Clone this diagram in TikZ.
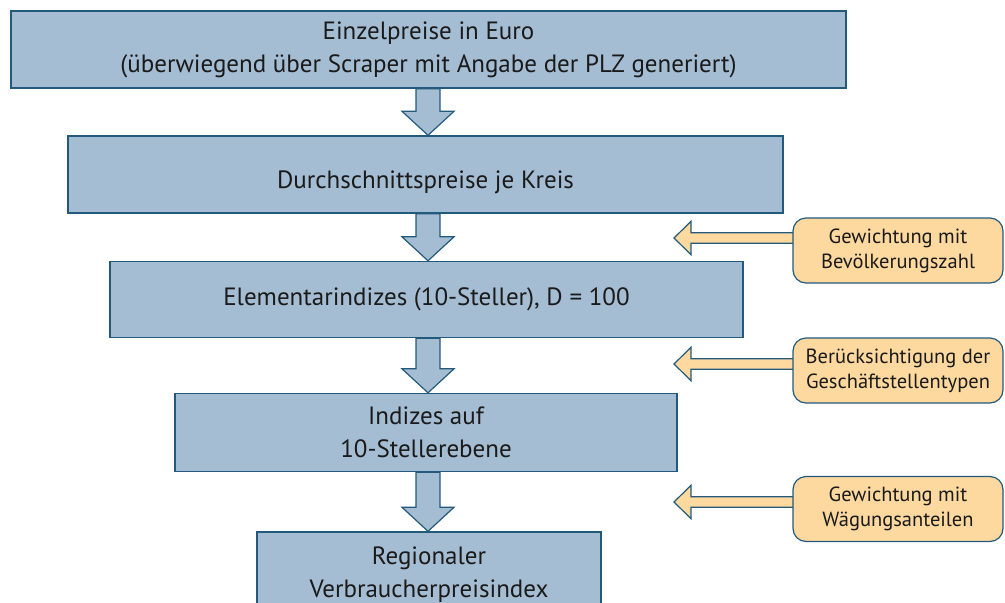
\documentclass[tikz,border=0pt]{standalone}
\usepackage{fontspec}
\setmainfont{PT Sans}
\usetikzlibrary{calc,backgrounds}
\definecolor{bfill}{HTML}{A5BDD3}
\definecolor{bline}{HTML}{235A7C}
\definecolor{ofill}{HTML}{FDD9A0}
\definecolor{txt}{HTML}{1A1A1A}
\tikzset{
  mainbox/.style={draw=bline, line width=1.4pt, fill=bfill, text=txt, align=center,
    font=\fontsize{25}{33}\selectfont, inner sep=0pt},
  sidebox/.style={draw=bline, line width=1.2pt, fill=ofill, text=txt, align=center,
    rounded corners=13pt, font=\fontsize{20.5}{25}\selectfont, inner sep=0pt,
    minimum width=210pt, minimum height=65pt},
  darr/.style={draw=bline, line width=1.2pt, fill=bfill, line join=miter},
  larr/.style={draw=bline, line width=1.2pt, fill=ofill, line join=miter}
}
\newcommand\dnarrow[2]{%
  \draw[darr] let \p1=(ax |- #1.south), \p2=(ax |- #2.north) in
    (\x1-12pt,\y1) -- (\x1-12pt,\y2+24pt) -- (\x1-26pt,\y2+24pt) -- (\x1,\y2)
    -- (\x1+26pt,\y2+24pt) -- (\x1+12pt,\y2+24pt) -- (\x1+12pt,\y1) -- cycle;}
\newcommand\lfarrow[2]{%
  \draw[larr] let \p1=(#1), \p2=(#2.west |- #1) in
    (\x2+4pt,\y1+5.3pt) -- (\x1+17pt,\y1+5.3pt) -- (\x1+17pt,\y1+16.7pt) -- (\x1,\y1)
    -- (\x1+17pt,\y1-16.7pt) -- (\x1+17pt,\y1-5.3pt) -- (\x2+4pt,\y1-5.3pt) -- cycle;}
\begin{document}
\begin{tikzpicture}[x=1pt,y=-1pt]
\useasboundingbox (0,0) rectangle (1005,603);
\clip (0,0) rectangle (1005,603);
\coordinate (ax) at (428,0);
\node[mainbox, minimum width=835pt, minimum height=77pt] (b1) at (428.5,49.5)
  {Einzelpreise in Euro\\(überwiegend über Scraper mit Angabe der PLZ generiert)};
\node[mainbox, minimum width=715pt, minimum height=77pt] (b2) at (425.5,174.5)
  {\raisebox{-14pt}[0pt][0pt]{Durchschnittspreise je Kreis}};
\node[mainbox, minimum width=633pt, minimum height=76pt] (b3) at (426.5,299.5)
  {Elementarindizes (10-Steller), D = 100};
\node[mainbox, minimum width=502pt, minimum height=78pt] (b4) at (426,432.5)
  {Indizes auf\\10-Stellerebene};
\node[mainbox, minimum width=344pt, minimum height=100pt] (b5) at (429,582)
  {};
\node[text=txt, align=center, font=\fontsize{25}{33}\selectfont, inner sep=0pt] (b5t) at (429,574.5)
  {Regionaler\\Verbraucherpreisindex};
\dnarrow{b1}{b2}
\dnarrow{b2}{b3}
\dnarrow{b3}{b4}
\dnarrow{b4}{b5}
\node[sidebox] (s1) at (898,250.5) {Gewichtung mit\\Bevölkerungszahl};
\node[sidebox] (s2) at (898,370.5) {Berücksichtigung der\\Geschäftstellentypen};
\node[sidebox] (s3) at (898,509) {Gewichtung mit\\Wägungsanteilen};
\coordinate (t1) at (674,238);
\coordinate (t2) at (674,364);
\coordinate (t3) at (674,502);
\begin{scope}[on background layer]
\lfarrow{t1}{s1}
\lfarrow{t2}{s2}
\lfarrow{t3}{s3}
\end{scope}
\end{tikzpicture}
\end{document}
